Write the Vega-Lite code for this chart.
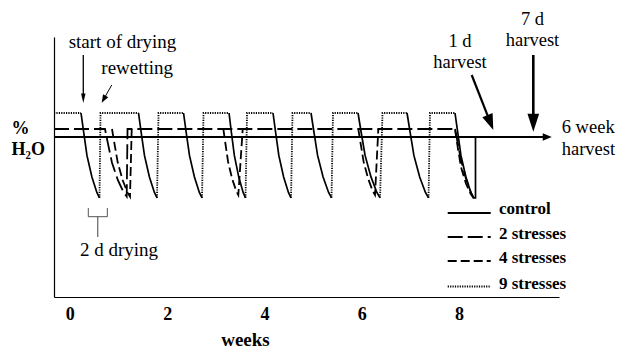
{
  "$schema": "https://vega.github.io/schema/vega-lite/v6.json",
  "width": 505,
  "height": 260,
  "autosize": {"type": "none"},
  "padding": {"left": 54, "top": 37, "right": 59, "bottom": 51},
  "background": "white",
  "config": {"view": {"stroke": null}, "font": "Liberation Serif"},
  "encoding": {
    "x": {"field": "w", "type": "quantitative",
      "scale": {"domain": [-0.325, 10.053], "nice": false, "zero": false},
      "axis": {"values": [0, 2, 4, 6, 8], "ticks": false, "tickSize": 0, "grid": false,
        "domainColor": "black", "domainWidth": 1.2,
        "labelFont": "Liberation Serif", "labelFontWeight": "bold", "labelFontSize": 18, "labelColor": "black",
        "labelBaseline": "alphabetic", "labelPadding": 22, "labelFlush": false, "labelOverlap": false, "labelBound": false,
        "title": "weeks", "titleFont": "Liberation Serif", "titleFontWeight": "bold", "titleFontSize": 19, "titleColor": "black",
        "titleX": 191, "titleY": 48, "titleAlign": "center", "titleBaseline": "alphabetic", "titleAngle": 0}},
    "y": {"field": "h", "type": "quantitative",
      "scale": {"domain": [20, 85], "nice": false, "zero": false},
      "axis": {"ticks": false, "labels": false, "grid": false, "domainColor": "black", "domainWidth": 1.2,
        "title": ["%", "H₂O"], "titleFont": "Liberation Serif", "titleFontWeight": "bold", "titleFontSize": 18, "titleColor": "black",
        "titleAngle": 0, "titleAlign": "left", "titleBaseline": "alphabetic", "titleX": -43, "titleY": 96.5, "titleLineHeight": 20.5}}
  },
  "layer": [
    {
      "data": {"values": [
        {"series": "control", "seg": "c", "w": -0.325, "h": 60},
        {"series": "control", "seg": "c", "w": 9.811, "h": 60},
        {"series": "2 stresses", "seg": "2", "w": -0.325, "h": 62},
        {"series": "2 stresses", "seg": "2", "w": 0.723, "h": 62},
        {"series": "2 stresses", "seg": "2", "w": 0.787, "h": 58.16},
        {"series": "2 stresses", "seg": "2", "w": 0.867, "h": 53.55},
        {"series": "2 stresses", "seg": "2", "w": 0.986, "h": 49.26},
        {"series": "2 stresses", "seg": "2", "w": 1.106, "h": 46.16},
        {"series": "2 stresses", "seg": "2", "w": 1.169, "h": 45.1},
        {"series": "2 stresses", "seg": "2", "w": 1.186, "h": 62},
        {"series": "2 stresses", "seg": "2", "w": 7.916, "h": 62},
        {"series": "2 stresses", "seg": "2", "w": 7.971, "h": 58.56},
        {"series": "2 stresses", "seg": "2", "w": 8.038, "h": 54.26},
        {"series": "2 stresses", "seg": "2", "w": 8.140, "h": 49.62},
        {"series": "2 stresses", "seg": "2", "w": 8.242, "h": 46.18},
        {"series": "2 stresses", "seg": "2", "w": 8.296, "h": 44.8},
        {"series": "4 stresses", "seg": "4a", "w": 0.867, "h": 62},
        {"series": "4 stresses", "seg": "4a", "w": 0.920, "h": 58.16},
        {"series": "4 stresses", "seg": "4a", "w": 0.986, "h": 53.55},
        {"series": "4 stresses", "seg": "4a", "w": 1.085, "h": 49.26},
        {"series": "4 stresses", "seg": "4a", "w": 1.184, "h": 46.16},
        {"series": "4 stresses", "seg": "4a", "w": 1.237, "h": 45.1},
        {"series": "4 stresses", "seg": "4a", "w": 1.272, "h": 62},
        {"series": "4 stresses", "seg": "4b", "w": 3.155, "h": 62},
        {"series": "4 stresses", "seg": "4b", "w": 3.199, "h": 58.25},
        {"series": "4 stresses", "seg": "4b", "w": 3.253, "h": 53.75},
        {"series": "4 stresses", "seg": "4b", "w": 3.336, "h": 49.56},
        {"series": "4 stresses", "seg": "4b", "w": 3.419, "h": 46.54},
        {"series": "4 stresses", "seg": "4b", "w": 3.463, "h": 45.5},
        {"series": "4 stresses", "seg": "4b", "w": 3.553, "h": 62},
        {"series": "4 stresses", "seg": "4c", "w": 5.929, "h": 62},
        {"series": "4 stresses", "seg": "4c", "w": 5.978, "h": 58.25},
        {"series": "4 stresses", "seg": "4c", "w": 6.039, "h": 53.75},
        {"series": "4 stresses", "seg": "4c", "w": 6.131, "h": 49.56},
        {"series": "4 stresses", "seg": "4c", "w": 6.223, "h": 46.54},
        {"series": "4 stresses", "seg": "4c", "w": 6.272, "h": 45.5},
        {"series": "4 stresses", "seg": "4c", "w": 6.340, "h": 62},
        {"series": "4 stresses", "seg": "4d", "w": 7.916, "h": 62},
        {"series": "4 stresses", "seg": "4d", "w": 7.971, "h": 57.53},
        {"series": "4 stresses", "seg": "4d", "w": 8.038, "h": 52.54},
        {"series": "4 stresses", "seg": "4d", "w": 8.140, "h": 48.41},
        {"series": "4 stresses", "seg": "4d", "w": 8.242, "h": 45.66},
        {"series": "4 stresses", "seg": "4d", "w": 8.296, "h": 44.8},
        {"series": "9 stresses", "seg": "9a", "w": -0.325, "h": 66},
        {"series": "9 stresses", "seg": "9a", "w": 0.230, "h": 66},
        {"series": "9 stresses", "seg": "9b", "w": 0.610, "h": 44.8},
        {"series": "9 stresses", "seg": "9b", "w": 0.631, "h": 66},
        {"series": "9 stresses", "seg": "9b", "w": 1.412, "h": 66},
        {"series": "9 stresses", "seg": "9c", "w": 1.792, "h": 44.8},
        {"series": "9 stresses", "seg": "9c", "w": 1.823, "h": 66},
        {"series": "9 stresses", "seg": "9c", "w": 2.337, "h": 66},
        {"series": "9 stresses", "seg": "9d", "w": 2.717, "h": 44.8},
        {"series": "9 stresses", "seg": "9d", "w": 2.748, "h": 66},
        {"series": "9 stresses", "seg": "9d", "w": 3.272, "h": 66},
        {"series": "9 stresses", "seg": "9e", "w": 3.611, "h": 44.8},
        {"series": "9 stresses", "seg": "9e", "w": 3.642, "h": 66},
        {"series": "9 stresses", "seg": "9e", "w": 4.176, "h": 66},
        {"series": "9 stresses", "seg": "9f", "w": 4.546, "h": 44.8},
        {"series": "9 stresses", "seg": "9f", "w": 4.577, "h": 66},
        {"series": "9 stresses", "seg": "9f", "w": 4.957, "h": 66},
        {"series": "9 stresses", "seg": "9g", "w": 5.378, "h": 44.8},
        {"series": "9 stresses", "seg": "9g", "w": 5.409, "h": 66},
        {"series": "9 stresses", "seg": "9g", "w": 5.923, "h": 66},
        {"series": "9 stresses", "seg": "9h", "w": 6.375, "h": 44.8},
        {"series": "9 stresses", "seg": "9h", "w": 6.426, "h": 66},
        {"series": "9 stresses", "seg": "9h", "w": 6.930, "h": 66},
        {"series": "9 stresses", "seg": "9i", "w": 7.372, "h": 44.8},
        {"series": "9 stresses", "seg": "9i", "w": 7.402, "h": 66},
        {"series": "9 stresses", "seg": "9i", "w": 7.916, "h": 66}
      ]},
      "mark": {"type": "line", "color": "black", "strokeWidth": 1.8},
      "encoding": {
        "detail": {"field": "seg", "type": "nominal"},
        "strokeDash": {"field": "series", "type": "nominal",
          "scale": {"domain": ["control", "2 stresses", "4 stresses", "9 stresses"], "range": [[1, 0], [15, 5], [9, 4], [1.2, 1.2]]},
          "legend": null},
        "order": {"value": null}
      }
    },
    {
      "data": {"values": [
        {"seg": "d1", "w": 0.230, "h": 66}, {"seg": "d1", "w": 0.285, "h": 61.19}, {"seg": "d1", "w": 0.352, "h": 55.4}, {"seg": "d1", "w": 0.454, "h": 50.02}, {"seg": "d1", "w": 0.556, "h": 46.14}, {"seg": "d1", "w": 0.610, "h": 44.8},
        {"seg": "d2", "w": 1.412, "h": 66}, {"seg": "d2", "w": 1.466, "h": 61.19}, {"seg": "d2", "w": 1.534, "h": 55.4}, {"seg": "d2", "w": 1.636, "h": 50.02}, {"seg": "d2", "w": 1.738, "h": 46.14}, {"seg": "d2", "w": 1.792, "h": 44.8},
        {"seg": "d3", "w": 2.337, "h": 66}, {"seg": "d3", "w": 2.391, "h": 61.19}, {"seg": "d3", "w": 2.459, "h": 55.4}, {"seg": "d3", "w": 2.561, "h": 50.02}, {"seg": "d3", "w": 2.662, "h": 46.14}, {"seg": "d3", "w": 2.717, "h": 44.8},
        {"seg": "d4", "w": 3.272, "h": 66}, {"seg": "d4", "w": 3.320, "h": 61.19}, {"seg": "d4", "w": 3.381, "h": 55.4}, {"seg": "d4", "w": 3.471, "h": 50.02}, {"seg": "d4", "w": 3.562, "h": 46.14}, {"seg": "d4", "w": 3.611, "h": 44.8},
        {"seg": "d5", "w": 4.176, "h": 66}, {"seg": "d5", "w": 4.229, "h": 61.19}, {"seg": "d5", "w": 4.295, "h": 55.4}, {"seg": "d5", "w": 4.394, "h": 50.02}, {"seg": "d5", "w": 4.493, "h": 46.14}, {"seg": "d5", "w": 4.546, "h": 44.8},
        {"seg": "d6", "w": 4.957, "h": 66}, {"seg": "d6", "w": 5.017, "h": 61.19}, {"seg": "d6", "w": 5.092, "h": 55.4}, {"seg": "d6", "w": 5.205, "h": 50.02}, {"seg": "d6", "w": 5.318, "h": 46.14}, {"seg": "d6", "w": 5.378, "h": 44.8},
        {"seg": "d7", "w": 5.923, "h": 66}, {"seg": "d7", "w": 5.987, "h": 61.19}, {"seg": "d7", "w": 6.068, "h": 55.4}, {"seg": "d7", "w": 6.189, "h": 50.02}, {"seg": "d7", "w": 6.310, "h": 46.14}, {"seg": "d7", "w": 6.375, "h": 44.8},
        {"seg": "d8", "w": 6.930, "h": 66}, {"seg": "d8", "w": 6.993, "h": 61.19}, {"seg": "d8", "w": 7.071, "h": 55.4}, {"seg": "d8", "w": 7.190, "h": 50.02}, {"seg": "d8", "w": 7.308, "h": 46.14}, {"seg": "d8", "w": 7.372, "h": 44.8},
        {"seg": "d9", "w": 7.916, "h": 66}, {"seg": "d9", "w": 7.971, "h": 61.19}, {"seg": "d9", "w": 8.038, "h": 55.4}, {"seg": "d9", "w": 8.140, "h": 50.02}, {"seg": "d9", "w": 8.242, "h": 46.14}, {"seg": "d9", "w": 8.296, "h": 44.8},
        {"seg": "d9", "w": 8.337, "h": 44.8}, {"seg": "d9", "w": 8.337, "h": 60}
      ]},
      "mark": {"type": "line", "color": "black", "strokeWidth": 1.7},
      "encoding": {"detail": {"field": "seg", "type": "nominal"}, "order": {"value": null}}
    },
    {
      "data": {"values": [
        {"series": "control", "w": 7.766, "w2": 8.650, "h": 41},
        {"series": "2 stresses", "w": 7.766, "w2": 8.650, "h": 35},
        {"series": "4 stresses", "w": 7.766, "w2": 8.650, "h": 29},
        {"series": "9 stresses", "w": 7.766, "w2": 8.650, "h": 22.625}
      ]},
      "mark": {"type": "rule", "color": "black", "strokeWidth": 1.8},
      "encoding": {
        "x2": {"field": "w2"},
        "strokeDash": {"field": "series", "type": "nominal",
          "scale": {"domain": ["control", "2 stresses", "4 stresses", "9 stresses"], "range": [[1, 0], [15, 5], [9, 4], [1.2, 1.2]]},
          "legend": null}
      }
    },
    {
      "data": {"values": [
        {"label": "control", "w": 8.820, "h": 40.675},
        {"label": "2 stresses", "w": 8.820, "h": 34.625},
        {"label": "4 stresses", "w": 8.820, "h": 28.425},
        {"label": "9 stresses", "w": 8.820, "h": 22.125}
      ]},
      "mark": {"type": "text", "align": "left", "baseline": "alphabetic", "font": "Liberation Serif", "fontWeight": "bold", "fontSize": 17, "color": "black"},
      "encoding": {"text": {"field": "label", "type": "nominal"}}
    },
    {
      "data": {"values": [
        {"label": "start of drying", "w": 1.083, "h": 82.18},
        {"label": "rewetting", "w": 1.385, "h": 75.75},
        {"label": "2 d drying", "w": 1.011, "h": 30.25}
      ]},
      "mark": {"type": "text", "align": "center", "baseline": "alphabetic", "font": "Liberation Serif", "fontSize": 19, "color": "black"},
      "encoding": {"text": {"field": "label", "type": "nominal"}}
    },
    {
      "data": {"values": [
        {"label": "1 d\nharvest", "w": 8.019, "h": 82.58},
        {"label": "7 d\nharvest", "w": 9.509, "h": 88}
      ]},
      "mark": {"type": "text", "align": "center", "baseline": "alphabetic", "lineBreak": "\n", "lineHeight": 21, "font": "Liberation Serif", "fontSize": 18.5, "color": "black"},
      "encoding": {"text": {"field": "label", "type": "nominal"}}
    },
    {
      "data": {"values": [
        {"label": "6 week\nharvest", "w": 10.109, "h": 60.925}
      ]},
      "mark": {"type": "text", "align": "left", "baseline": "alphabetic", "lineBreak": "\n", "lineHeight": 21.7, "font": "Liberation Serif", "fontSize": 18.5, "color": "black"},
      "encoding": {"text": {"field": "label", "type": "nominal"}}
    },
    {
      "data": {"values": [
        {"w": 0.380, "h": 42.25}, {"w": 0.380, "h": 40.075}, {"w": 0.771, "h": 40.075}, {"w": 0.771, "h": 42.25}
      ]},
      "mark": {"type": "line", "color": "#555555", "strokeWidth": 1},
      "encoding": {"order": {"value": null}}
    },
    {
      "data": {"values": [{"w": 0.575, "h": 40.075, "h2": 35}]},
      "mark": {"type": "rule", "color": "#444444", "strokeWidth": 1},
      "encoding": {"y2": {"field": "h2"}}
    },
    {
      "data": {"values": [
        {"arrow": "start of drying", "w": 0.277, "h": 80.5, "w2": 0.277, "h2": 69.7}
      ]},
      "mark": {"type": "rule", "color": "black", "strokeWidth": 1.3},
      "encoding": {"x2": {"field": "w2"}, "y2": {"field": "h2"}}
    },
    {
      "data": {"values": [{"arrow": "7 d harvest", "w": 9.525, "h": 80.5, "w2": 9.525, "h2": 63.6}]},
      "mark": {"type": "rule", "color": "black", "strokeWidth": 2.6},
      "encoding": {"x2": {"field": "w2"}, "y2": {"field": "h2"}}
    },
    {
      "data": {"values": [{"arrow": "rewetting", "w": 0.861, "h": 73, "w2": 0.696, "h2": 69.445}]},
      "mark": {"type": "rule", "color": "black", "strokeWidth": 1},
      "encoding": {"x2": {"field": "w2"}, "y2": {"field": "h2"}}
    },
    {
      "data": {"values": [{"arrow": "1 d harvest", "w": 8.259, "h": 75.5, "w2": 8.643, "h2": 63.61}]},
      "mark": {"type": "rule", "color": "black", "strokeWidth": 2.2},
      "encoding": {"x2": {"field": "w2"}, "y2": {"field": "h2"}}
    },
    {
      "data": {"values": [{"arrow": "start of drying", "w": 0.277, "h": 69.69}]},
      "mark": {"type": "point", "shape": "M0,1L-0.47,-1L0.47,-1Z", "size": 90, "filled": true, "color": "black", "opacity": 1, "strokeWidth": 0}
    },
    {
      "data": {"values": [{"arrow": "rewetting", "w": 0.696, "h": 69.445}]},
      "mark": {"type": "point", "shape": "M0,1L-0.75,-1L0.75,-1Z", "size": 64, "angle": 29.5, "filled": true, "color": "black", "opacity": 1, "strokeWidth": 0}
    },
    {
      "data": {"values": [{"arrow": "1 d harvest", "w": 8.643, "h": 63.61}]},
      "mark": {"type": "point", "shape": "M0,1L-0.69,-1L0.69,-1Z", "size": 256, "angle": -21.4, "filled": true, "color": "black", "opacity": 1, "strokeWidth": 0}
    },
    {
      "data": {"values": [{"arrow": "7 d harvest", "w": 9.525, "h": 63.575}]},
      "mark": {"type": "point", "shape": "M0,1L-0.65,-1L0.65,-1Z", "size": 324, "filled": true, "color": "black", "opacity": 1, "strokeWidth": 0}
    },
    {
      "data": {"values": [{"arrow": "6 week harvest", "w": 9.811, "h": 60}]},
      "mark": {"type": "point", "shape": "M0,1L-0.85,-1L0.85,-1Z", "size": 81, "angle": -90, "filled": true, "color": "black", "opacity": 1, "strokeWidth": 0}
    }
  ]
}
